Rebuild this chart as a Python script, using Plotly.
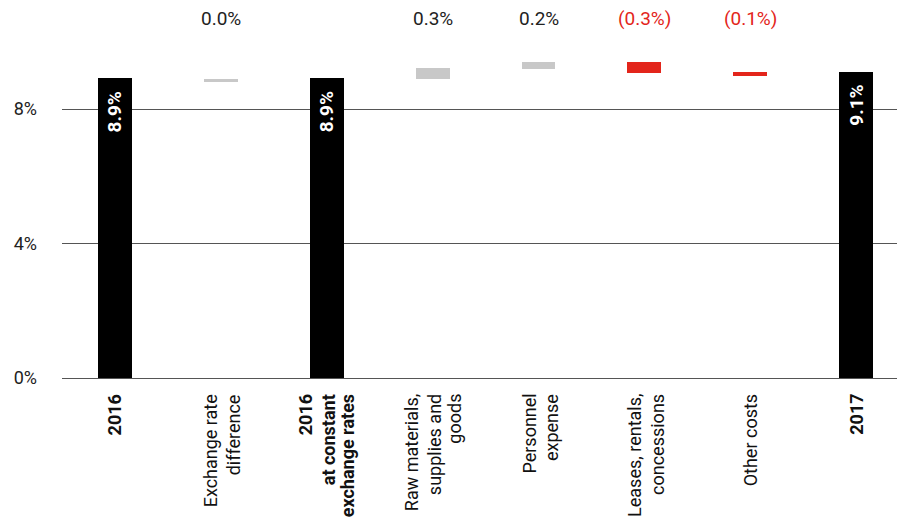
import plotly.graph_objects as go

# ---- data ----
categories = ["2016", "Exchange rate difference", "2016 at constant exchange rates",
              "Raw materials, supplies and goods", "Personnel expense",
              "Leases, rentals, concessions", "Other costs", "2017"]
label_lines = [["2016"], ["Exchange rate", "difference"], ["2016", "at constant", "exchange rates"],
               ["Raw materials,", "supplies and", "goods"], ["Personnel", "expense"],
               ["Leases, rentals,", "concessions"], ["Other costs"], ["2017"]]
label_bold = [True, False, True, False, False, False, False, True]
kinds = ["total", "delta", "total", "delta", "delta", "delta", "delta", "total"]
reported = [8.9, 0.0, 8.9, 0.3, 0.2, -0.3, -0.1, 9.1]     # printed values (%)
bar_bottom = [0.0, 8.81, 0.0, 8.90, 9.19, 9.08, 8.99, 0.0]  # bar extents (%)
bar_top = [8.92, 8.89, 8.92, 9.22, 9.40, 9.40, 9.10, 9.10]
y_ticks = [0, 4, 8]
y_tick_text = ["0%", "4%", "8%"]

# ---- styles ----
FONT = "Roboto"
BLACK = "#000000"
GREY = "#c8c8c8"
RED = "#e3251b"
TXT = "#222222"
LINE_OFFSETS = {1: [0], 2: [-10, 13], 3: [-21, 2, 21]}

x = list(range(len(categories)))
colors = []
for k, v in zip(kinds, reported):
    if k == "total":
        colors.append(BLACK)
    elif v < 0:
        colors.append(RED)
    else:
        colors.append(GREY)

heights = [t - b for t, b in zip(bar_top, bar_bottom)]

fig = go.Figure()
fig.add_trace(go.Bar(x=x, y=heights, base=bar_bottom, marker=dict(color=colors, line=dict(width=0)),
                     width=0.32, hoverinfo="skip", showlegend=False))

def fmt(v):
    s = f"{abs(v):.1f}%"
    return f"({s})" if v < 0 else s

annotations = []
for i, (k, v) in enumerate(zip(kinds, reported)):
    if k == "total":
        annotations.append(dict(x=i, y=bar_top[i], xref="x", yref="y", text=f"<b>{fmt(v)}</b>",
                                textangle=-90, showarrow=False, xanchor="center", yanchor="top",
                                yshift=-11, font=dict(family=FONT, size=19, color="white")))
    else:
        annotations.append(dict(x=i, y=1, xref="x", yref="paper", text=fmt(v), showarrow=False,
                                xanchor="center", yanchor="top", yshift=-5,
                                font=dict(family=FONT, size=19, color=RED if v < 0 else TXT)))

for i, lines in enumerate(label_lines):
    offs = LINE_OFFSETS[len(lines)]
    for line, dx in zip(lines, offs):
        t = f"<b>{line}</b>" if label_bold[i] else line
        annotations.append(dict(x=i, y=0, xref="x", yref="paper", text=t, textangle=-90,
                                showarrow=False, xanchor="center", yanchor="top",
                                xshift=dx, yshift=-14,
                                font=dict(family=FONT, size=18, color="#111111")))

fig.update_layout(
    width=897, height=519,
    margin=dict(l=62, r=0, t=0, b=141),
    paper_bgcolor="white", plot_bgcolor="white",
    font=dict(family=FONT, size=18, color=TXT),
    bargap=0,
    annotations=annotations,
    xaxis=dict(range=[-0.5, 7.385], showticklabels=False, showgrid=False, zeroline=False,
               showline=False, ticks=""),
    yaxis=dict(range=[0, 11.242], tickvals=y_ticks, ticktext=y_tick_text, showgrid=True,
               gridcolor="#555555", gridwidth=1, zeroline=True, zerolinecolor="#555555",
               zerolinewidth=1, showline=False, ticks="", ticklabelstandoff=24,
               tickfont=dict(family=FONT, size=18, color=TXT)),
)

fig.write_html("out.html")
